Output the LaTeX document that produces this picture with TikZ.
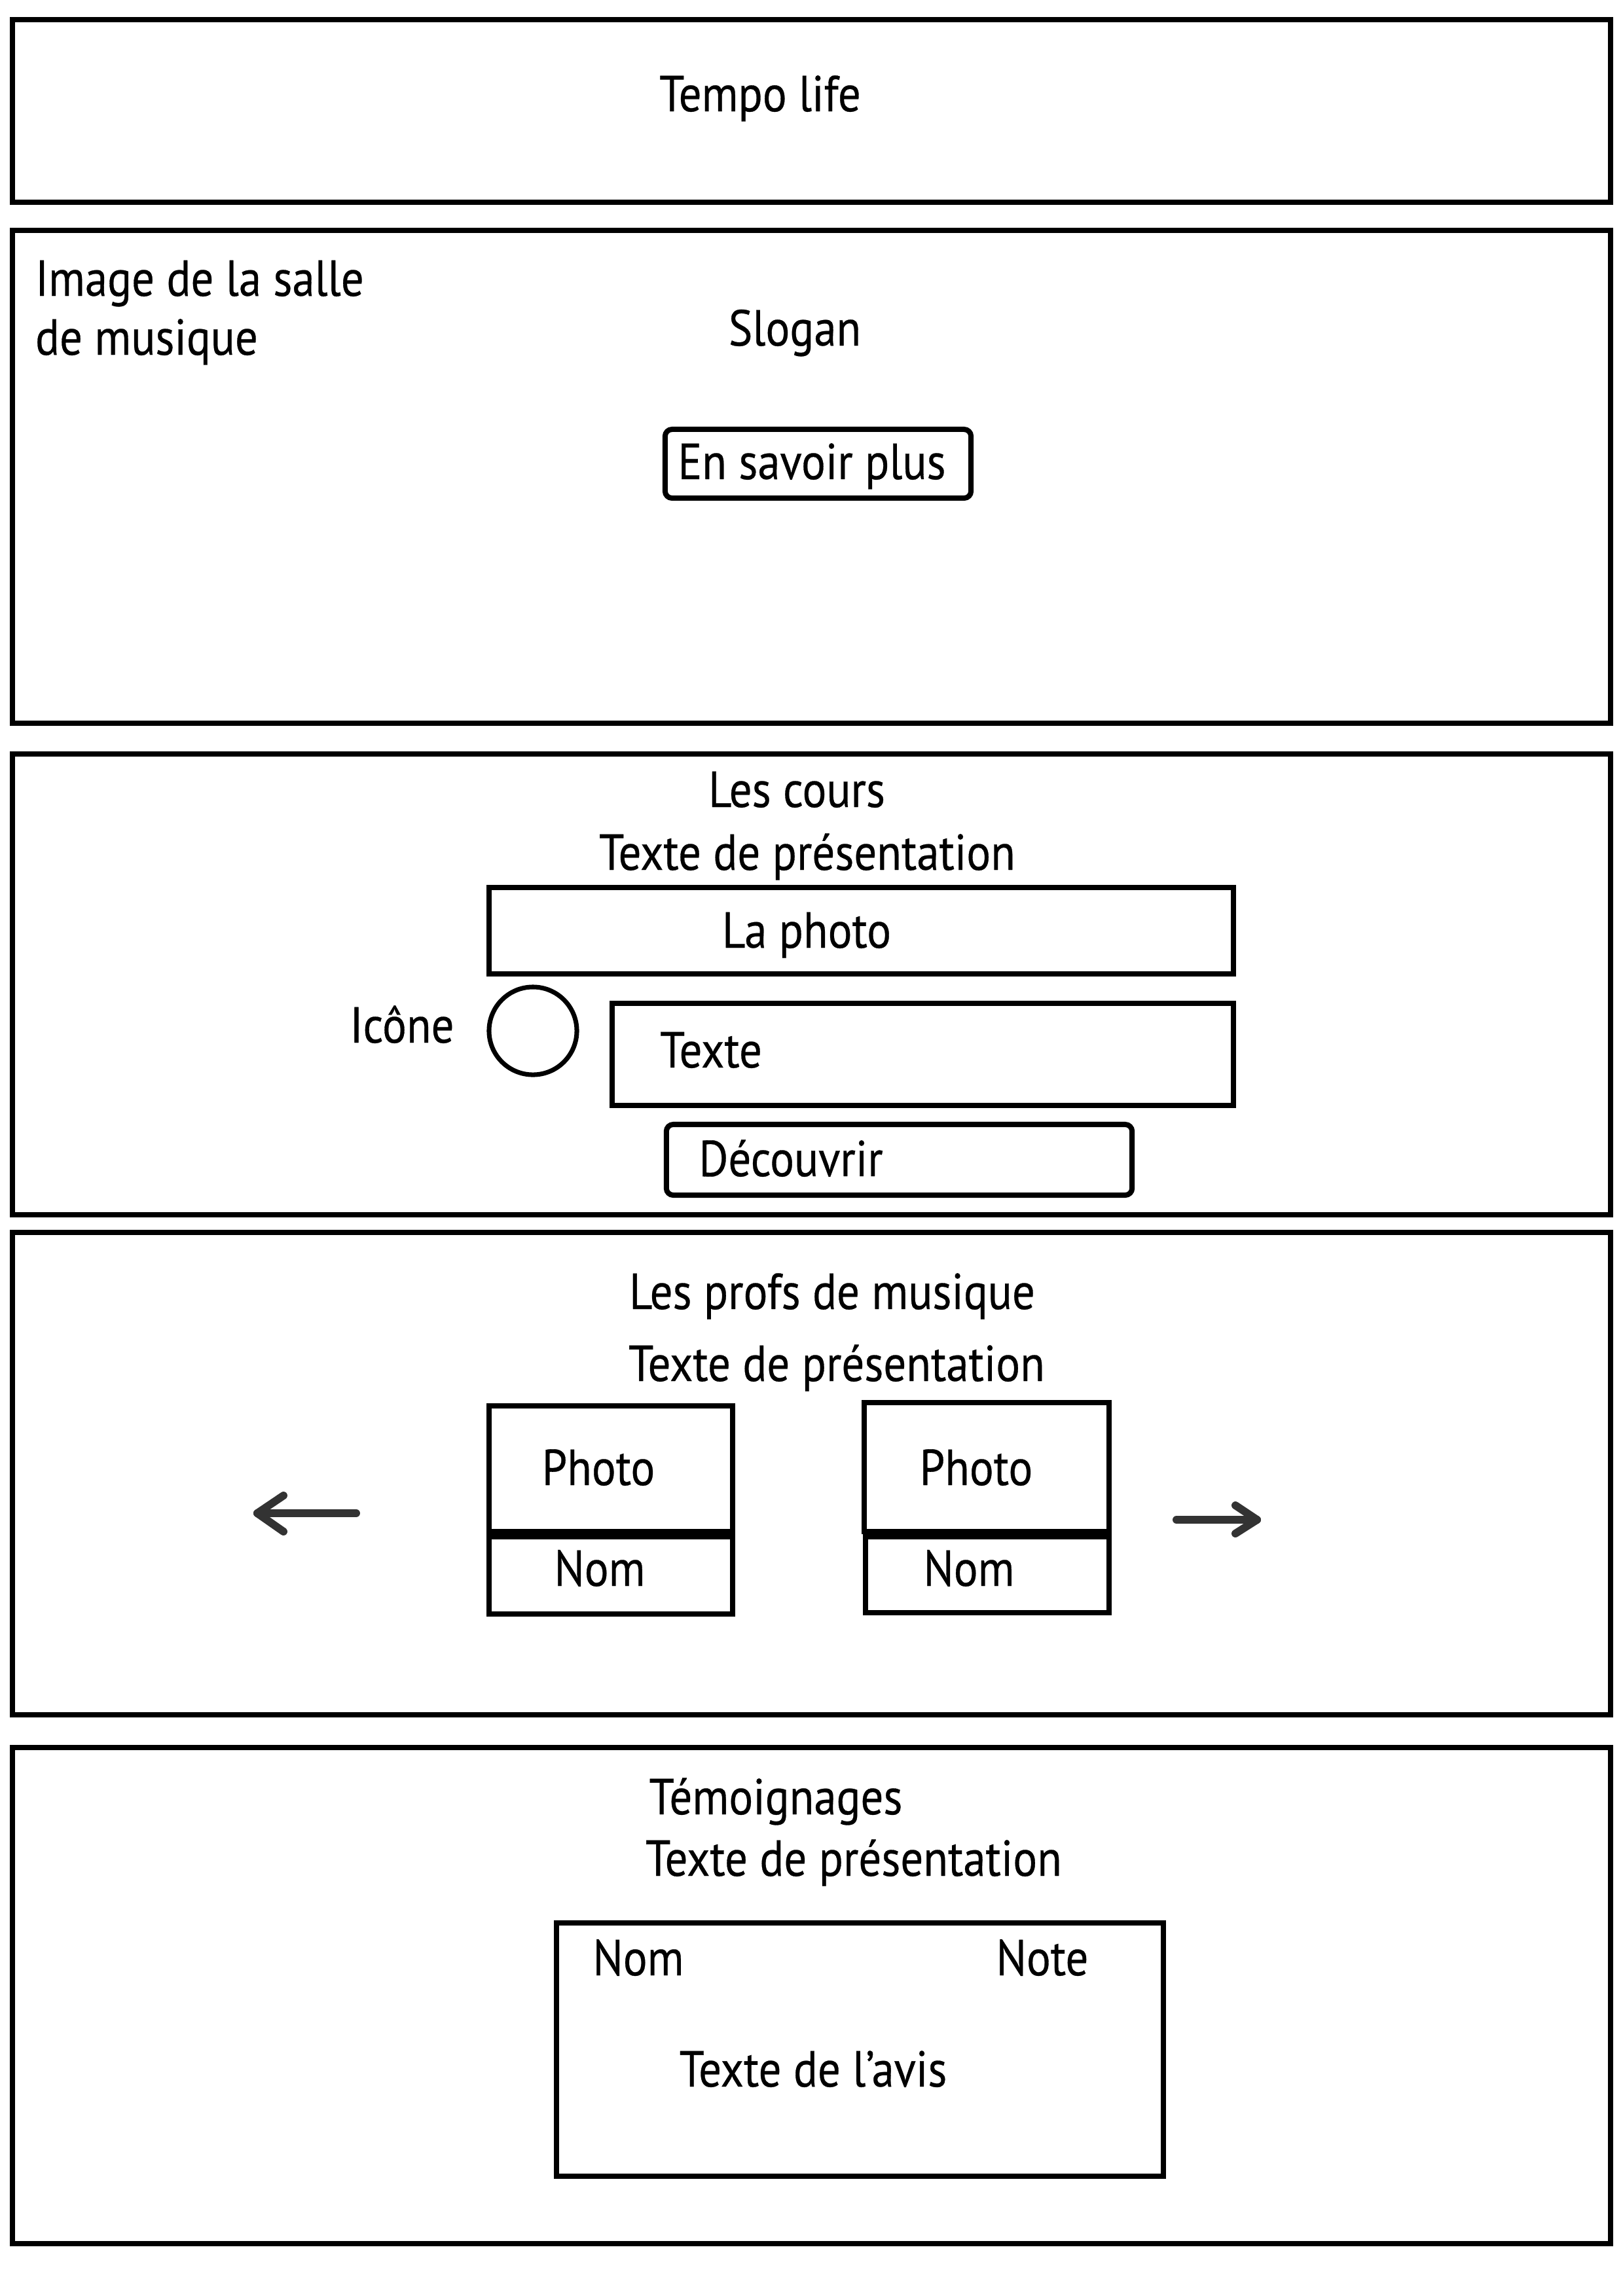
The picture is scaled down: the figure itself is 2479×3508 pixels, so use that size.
\documentclass[tikz,border=0pt]{standalone}
\usepackage{fontspec}
\setmainfont[FakeStretch=0.89, FakeBold=0.4]{PT Sans}
\definecolor{arrowgray}{HTML}{333333}
\begin{document}
\begin{tikzpicture}[x=0.01cm, y=-0.01cm,
  frame/.style={draw=black, line width=2.28pt, inner sep=0pt, outer sep=0pt},
  btn/.style={frame, rounded corners=3pt},
  ring/.style={draw=black, line width=2pt, circle, inner sep=0pt, outer sep=0pt, minimum size=1.34cm},
  lbl/.style={inner sep=0pt, outer sep=0pt, font=\fontsize{22pt}{26pt}\selectfont, anchor=base},
  lblw/.style={lbl, anchor=base west},
  navarrow/.style={draw=arrowgray, line width=3.4pt, line cap=round, line join=round}
]
\useasboundingbox (0,0) rectangle (2479,3508);
% sections
\node[frame, minimum width=24.39cm, minimum height=2.79cm] (header) at (1239.5,169.5) {};
\node[frame, minimum width=24.39cm, minimum height=7.53cm] (hero) at (1239.5,728.5) {};
\node[frame, minimum width=24.39cm, minimum height=7.04cm] (cours) at (1239.5,1504) {};
\node[frame, minimum width=24.39cm, minimum height=7.37cm] (profs) at (1239.5,2251.5) {};
\node[frame, minimum width=24.39cm, minimum height=7.58cm] (temo) at (1239.5,3049) {};
% header
\node[lbl] (title) at (1161,170) {Tempo life};
% hero
\node[lblw] (img1) at (54,452) {Image de la salle};
\node[lblw] (img2) at (54,542) {de musique};
\node[lbl] (slogan) at (1214,528) {Slogan};
\node[btn, minimum width=4.67cm, minimum height=1.05cm] (savoir) at (1249.5,708.5) {};
\node[lbl] (savoirtxt) at (1240,732) {En savoir plus};
% cours
\node[lbl] (courstitle) at (1217,1233) {Les cours};
\node[lbl] (courspres) at (1233,1329) {Texte de présentation};
\node[frame, minimum width=11.37cm, minimum height=1.32cm] (laphoto) at (1315.5,1422) {};
\node[lbl] (laphototxt) at (1232,1448) {La photo};
\node[lbl] (icone) at (614,1593) {Icône};
\node[ring] (cercle) at (814,1575) {};
\node[frame, minimum width=9.49cm, minimum height=1.56cm] (texte) at (1409.5,1611) {};
\node[lbl] (textetxt) at (1086,1631) {Texte};
\node[btn, minimum width=7.11cm, minimum height=1.08cm] (decouvrir) at (1373.5,1772) {};
\node[lbl] (decouvrirtxt) at (1208,1797) {Découvrir};
% profs
\node[lbl] (profstitle) at (1271,2000) {Les profs de musique};
\node[lbl] (profspres) at (1278,2110) {Texte de présentation};
\node[frame, minimum width=3.72cm, minimum height=1.92cm] (photoL) at (933,2244) {};
\node[frame, minimum width=3.72cm, minimum height=1.18cm] (nomL) at (933,2407) {};
\node[frame, minimum width=3.74cm, minimum height=1.97cm] (photoR) at (1507,2241.5) {};
\node[frame, minimum width=3.72cm, minimum height=1.16cm] (nomR) at (1508,2406) {};
\node[lbl] (photoLtxt) at (914,2269) {Photo};
\node[lbl] (photoRtxt) at (1491,2269) {Photo};
\node[lbl] (nomLtxt) at (916,2423) {Nom};
\node[lbl] (nomRtxt) at (1480,2423) {Nom};
\coordinate (laTail) at (544,2312);
\coordinate (laTip) at (393,2312);
\coordinate (laUp) at (433,2285);
\coordinate (laDn) at (433,2340);
\draw[navarrow] (laTail) -- (laTip);
\draw[navarrow] (laUp) -- (laTip) -- (laDn);
\coordinate (raTail) at (1797,2322);
\coordinate (raTip) at (1920,2322);
\coordinate (raUp) at (1887,2300);
\coordinate (raDn) at (1887,2343);
\draw[navarrow] (raTail) -- (raTip);
\draw[navarrow] (raUp) -- (raTip) -- (raDn);
% temoignages
\node[lbl] (temotitle) at (1185,2772) {Témoignages};
\node[lbl] (temopres) at (1304,2866) {Texte de présentation};
\node[frame, minimum width=9.27cm, minimum height=3.87cm] (avis) at (1313.5,3131.5) {};
\node[lbl] (avisnom) at (975,3018) {Nom};
\node[lbl] (avisnote) at (1592,3018) {Note};
\node[lbl] (avistxt) at (1242,3188) {Texte de l’avis};
\end{tikzpicture}
\end{document}
